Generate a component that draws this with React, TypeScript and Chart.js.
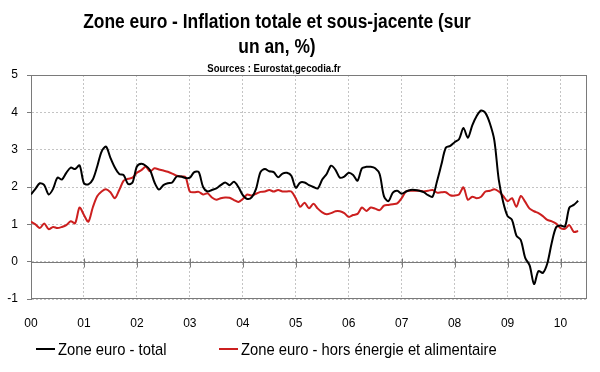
import React, { useEffect, useRef } from 'react';
import { Chart, registerables } from 'chart.js';

Chart.register(...registerables);

const yearLabels = ['00', '01', '02', '03', '04', '05', '06', '07', '08', '09', '10'];

// Monthly year-on-year rates, Jan 2000 .. May 2010
const totalInflation = [
  1.80, 1.95, 2.10, 2.05, 1.80, 1.95, 2.25, 2.20, 2.38, 2.52, 2.48, 2.58,
  2.10, 2.07, 2.20, 2.55, 2.95, 3.08, 2.78, 2.52, 2.35, 2.32, 2.08, 2.12,
  2.55, 2.62, 2.57, 2.45, 2.12, 1.93, 2.05, 2.10, 2.12, 2.28, 2.28, 2.24,
  2.25, 2.40, 2.40, 2.00, 1.88, 1.92, 1.96, 2.05, 2.12, 2.05, 2.14, 2.00,
  1.78, 1.68, 1.72, 1.95, 2.40, 2.48, 2.42, 2.40, 2.26, 2.36, 2.38, 2.30,
  1.98, 2.12, 2.12, 2.05, 2.00, 1.96, 2.20, 2.35, 2.57, 2.46, 2.25, 2.28,
  2.38, 2.32, 2.17, 2.50, 2.54, 2.54, 2.50, 2.35, 1.75, 1.62, 1.85, 1.90,
  1.82, 1.88, 1.92, 1.92, 1.90, 1.86, 1.78, 1.74, 2.15, 2.60, 3.05, 3.10,
  3.20, 3.28, 3.58, 3.32, 3.65, 3.90, 4.05, 3.98, 3.70, 3.25, 2.20, 1.60,
  1.22, 1.12, 0.70, 0.58, 0.10, -0.10, -0.60, -0.25, -0.30, -0.05, 0.50, 0.92,
  0.97, 0.94, 1.45, 1.52, 1.63,
];

const coreInflation = [
  1.07, 1.00, 0.90, 1.02, 0.87, 0.93, 0.90, 0.93, 0.98, 1.08, 1.03, 1.45,
  1.25, 1.07, 1.45, 1.75, 1.88, 1.94, 1.86, 1.70, 1.92, 2.17, 2.22, 2.25,
  2.38, 2.45, 2.54, 2.42, 2.50, 2.47, 2.44, 2.41, 2.36, 2.30, 2.28, 2.27,
  1.88, 1.86, 1.87, 1.80, 1.83, 1.72, 1.66, 1.70, 1.72, 1.71, 1.65, 1.60,
  1.68, 1.80, 1.77, 1.82, 1.87, 1.88, 1.92, 1.88, 1.92, 1.88, 1.88, 1.88,
  1.70, 1.47, 1.58, 1.43, 1.55, 1.42, 1.32, 1.27, 1.30, 1.35, 1.35, 1.30,
  1.20, 1.25, 1.28, 1.45, 1.36, 1.45, 1.42, 1.38, 1.50, 1.52, 1.54, 1.56,
  1.70, 1.88, 1.90, 1.90, 1.90, 1.88, 1.90, 1.92, 1.85, 1.86, 1.86, 1.78,
  1.77, 1.80, 1.99, 1.66, 1.74, 1.70, 1.74, 1.88, 1.90, 1.94, 1.88, 1.76,
  1.62, 1.70, 1.47, 1.76, 1.60, 1.42, 1.35, 1.30, 1.22, 1.12, 1.08, 1.02,
  0.90, 0.88, 0.98, 0.80, 0.82,
];

const seriesNames = ['Zone euro - total', 'Zone euro - hors énergie et alimentaire'];
const seriesColors = ['#000000', '#cc1f1f'];
const titleLines = ['Zone euro - Inflation totale et sous-jacente (sur', 'un an, %)'];
const subtitleText = 'Sources : Eurostat,gecodia.fr';

const FAMILY = '"Liberation Sans", Arial, sans-serif';
const SX = 0.87;

function drawText(ctx: CanvasRenderingContext2D, text: string, x: number, y: number, font: string, align: CanvasTextAlign, color: string) {
  ctx.save();
  ctx.translate(x, y);
  ctx.scale(SX, 1);
  ctx.font = font;
  ctx.fillStyle = color;
  ctx.textAlign = align;
  ctx.textBaseline = 'alphabetic';
  ctx.fillText(text, 0, 0);
  ctx.restore();
}

const decorPlugin = {
  id: 'decor',
  beforeDraw(chart: any) {
    const { ctx, width, height } = chart;
    ctx.save();
    ctx.fillStyle = '#ffffff';
    ctx.fillRect(0, 0, width, height);
    ctx.restore();
  },
  beforeDatasetsDraw(chart: any) {
    const { ctx, chartArea: a, scales } = chart;
    const xs = scales.x;
    const ys = scales.y;
    ctx.save();
    ctx.strokeStyle = '#7a7a7a';
    ctx.lineWidth = 1;
    ctx.strokeRect(Math.round(a.left) + 0.5, Math.round(a.top) + 0.5, Math.round(a.right - a.left) - 1, Math.round(a.bottom - a.top) - 1);
    const y0 = Math.round(ys.getPixelForValue(0)) + 0.5;
    ctx.beginPath();
    ctx.moveTo(a.left, y0);
    ctx.lineTo(a.right, y0);
    yearLabels.forEach((_, i) => {
      if (i === 0) return;
      const px = Math.round(xs.getPixelForValue(i * 12)) + 0.5;
      ctx.moveTo(px, y0 - 4);
      ctx.lineTo(px, y0 + 5);
    });
    ctx.stroke();
    ctx.restore();
  },
  afterDraw(chart: any) {
    const { ctx } = chart;
    const cx = 277;
    drawText(ctx, titleLines[0], cx, 28, `bold 20px ${FAMILY}`, 'center', '#000');
    drawText(ctx, titleLines[1], cx, 52.5, `bold 20px ${FAMILY}`, 'center', '#000');
    drawText(ctx, subtitleText, cx - 3, 72, `bold 11px ${FAMILY}`, 'center', '#000');
    const legendX = [36, 219];
    const ly = 349;
    chart.data.datasets.forEach((ds: any, i: number) => {
      ctx.save();
      ctx.strokeStyle = ds.borderColor;
      ctx.lineWidth = 2;
      ctx.beginPath();
      ctx.moveTo(legendX[i], ly);
      ctx.lineTo(legendX[i] + 19, ly);
      ctx.stroke();
      ctx.restore();
      drawText(ctx, ds.label, legendX[i] + 22, ly + 6, `17px ${FAMILY}`, 'left', '#000');
    });
  },
};

export default function App() {
  const canvasRef = useRef<HTMLCanvasElement | null>(null);

  useEffect(() => {
    const canvas = canvasRef.current;
    if (!canvas) return;
    const toPoints = (arr: number[]) => arr.map((v, i) => ({ x: i, y: v }));
    const chart = new Chart(canvas, {
      type: 'line',
      data: {
        datasets: [
          {
            label: seriesNames[0],
            data: toPoints(totalInflation),
            borderColor: seriesColors[0],
            borderWidth: 2,
            pointRadius: 0,
            tension: 0.3,
            fill: false,
          },
          {
            label: seriesNames[1],
            data: toPoints(coreInflation),
            borderColor: seriesColors[1],
            borderWidth: 2,
            pointRadius: 0,
            tension: 0.3,
            fill: false,
          },
        ],
      },
      options: {
        responsive: false,
        animation: false,
        layout: { padding: { left: 0, right: 13, top: 75, bottom: 0 } },
        plugins: {
          legend: { display: false },
          title: { display: false },
          tooltip: { enabled: false },
        },
        scales: {
          x: {
            type: 'linear',
            min: 0,
            max: 126,
            afterFit: (s: any) => { s.height = 73; },
            afterBuildTicks: (s: any) => { s.ticks = yearLabels.map((_, i) => ({ value: i * 12 })); },
            ticks: {
              autoSkip: false,
              maxRotation: 0,
              padding: 17,
              color: '#000',
              font: { family: FAMILY, size: 12 },
              callback: (v: any) => yearLabels[Math.round(Number(v) / 12)],
            },
            grid: { color: '#c4c4c4', drawTicks: false, lineWidth: 1 },
            border: { display: false, dash: [2, 2] },
          },
          y: {
            min: -1,
            max: 5,
            afterFit: (s: any) => { s.width = 31; },
            ticks: {
              stepSize: 1,
              padding: 9,
              color: '#000',
              font: { family: FAMILY, size: 12 },
            },
            grid: { color: '#c4c4c4', tickColor: '#7a7a7a', tickLength: 4, tickBorderDash: [], lineWidth: 1 },
            border: { display: true, color: '#7a7a7a', dash: [2, 2] },
          },
        },
      },
      plugins: [decorPlugin],
    });
    return () => chart.destroy();
  }, []);

  return (
    <div style={{ position: 'absolute', left: 0, top: 0, width: 600, height: 372 }}>
      <canvas ref={canvasRef} width={600} height={372} />
    </div>
  );
}
